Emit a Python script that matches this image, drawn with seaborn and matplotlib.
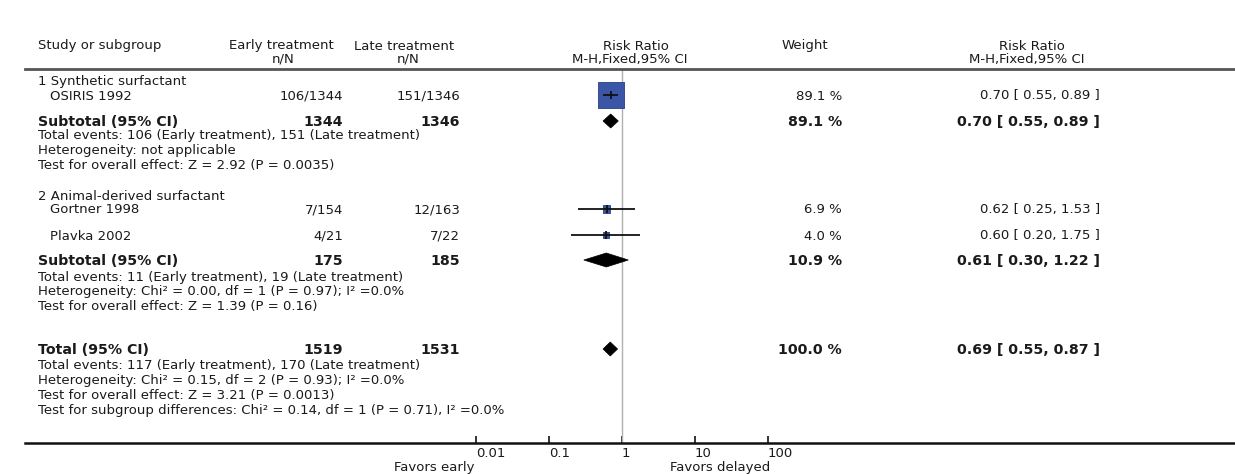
import numpy as np
import pandas as pd
import matplotlib
matplotlib.use("Agg")
import matplotlib.pyplot as plt
import seaborn as sns
from matplotlib.ticker import FixedLocator, FixedFormatter, NullLocator

# ---------------- data ----------------
group_titles = ["1 Synthetic surfactant", "2 Animal-derived surfactant"]
studies = ["OSIRIS 1992", "Gortner 1998", "Plavka 2002"]
early_events = [106, 7, 4]
early_total = [1344, 154, 21]
late_events = [151, 12, 7]
late_total = [1346, 163, 22]
study_rr = [0.70, 0.62, 0.60]
study_lo = [0.55, 0.25, 0.20]
study_hi = [0.89, 1.53, 1.75]
study_weight = [89.1, 6.9, 4.0]

pooled_labels = ["Subtotal (95% CI)", "Subtotal (95% CI)", "Total (95% CI)"]
pooled_early_total = [1344, 175, 1519]
pooled_late_total = [1346, 185, 1531]
pooled_rr = [0.70, 0.61, 0.69]
pooled_lo = [0.55, 0.30, 0.55]
pooled_hi = [0.89, 1.22, 0.87]
pooled_weight = [89.1, 10.9, 100.0]

footnotes_g1 = ["Total events: 106 (Early treatment), 151 (Late treatment)",
                "Heterogeneity: not applicable",
                "Test for overall effect: Z = 2.92 (P = 0.0035)"]
footnotes_g2 = ["Total events: 11 (Early treatment), 19 (Late treatment)",
                "Heterogeneity: Chi\u00b2 = 0.00, df = 1 (P = 0.97); I\u00b2 =0.0%",
                "Test for overall effect: Z = 1.39 (P = 0.16)"]
footnotes_total = ["Total events: 117 (Early treatment), 170 (Late treatment)",
                   "Heterogeneity: Chi\u00b2 = 0.15, df = 2 (P = 0.93); I\u00b2 =0.0%",
                   "Test for overall effect: Z = 3.21 (P = 0.0013)",
                   "Test for subgroup differences: Chi\u00b2 = 0.14, df = 1 (P = 0.71), I\u00b2 =0.0%"]

tick_values = [0.01, 0.1, 1, 10, 100]
tick_labels = ["0.01", "0.1", "1", "10", "100"]
favors_left = "Favors early"
favors_right = "Favors delayed"

# ---------------- layout (pixel rows / columns) ----------------
W, H = 1235, 474
study_rows = [95, 209, 235]
pooled_rows = [121, 260, 349]
group_rows = [81, 196]
foot_rows = [136, 277, 366]
foot_step = 14.8
AX_LEFT, AX_RIGHT, AX_TOP, AX_BOT = 25, 1235, 69, 443
X_ONE, PX_DEC = 622, 73.0

sns.set_style("white")
plt.rcParams['font.family'] = ['DejaVu Sans']
TXT = "#1a1a1a"
FS, FSB = 9.5, 10.2
BLUE = "#3B56A6"

fig = plt.figure(figsize=(W / 100, H / 100), dpi=100)
ax = fig.add_axes([AX_LEFT / W, 1 - AX_BOT / H, (AX_RIGHT - AX_LEFT) / W, (AX_BOT - AX_TOP) / H])
ax.set_xscale("log")
ax.set_xlim(10 ** ((AX_LEFT - X_ONE) / PX_DEC), 10 ** ((AX_RIGHT - X_ONE) / PX_DEC))
ax.set_ylim(AX_BOT, AX_TOP)

def T(px, py, s, ha="left", bold=False, size=None):
    fig.text(px / W, 1 - py / H, s, ha=ha, va="center", color=TXT,
             fontsize=size or (FSB if bold else FS),
             fontweight="bold" if bold else "normal")

# reference line at 1
ax.axvline(1, color="#b0b0b0", lw=1.0, zorder=1)

# studies: CI lines, squares, point ticks
sdf = pd.DataFrame({"study": studies, "rr": study_rr, "lo": study_lo, "hi": study_hi,
                    "weight": study_weight, "row": study_rows})
sns.scatterplot(data=sdf, x="rr", y="row", size="weight", sizes=(0, 350),
                size_norm=(0, max(study_weight)), marker="s", color=BLUE,
                edgecolor="#2a3f85", linewidth=0.6, legend=False, ax=ax, zorder=3)
ax.hlines(sdf["row"], sdf["lo"], sdf["hi"], color="#111111", lw=1.3, zorder=4)
ax.scatter(sdf["rr"], sdf["row"], marker="|", s=40, color="#111111", linewidths=1.3, zorder=5)

# pooled diamonds
for rr, lo, hi, row in zip(pooled_rr, pooled_lo, pooled_hi, pooled_rows):
    ax.fill([lo, rr, hi, rr], [row, row - 7, row, row + 7], color="black", lw=0.5, zorder=4)

# axes styling
for side in ["left", "right"]:
    ax.spines[side].set_visible(False)
ax.spines["top"].set_color("#555555")
ax.spines["top"].set_linewidth(2.0)
ax.spines["bottom"].set_color("#111111")
ax.spines["bottom"].set_linewidth(1.8)
ax.yaxis.set_major_locator(NullLocator())
ax.xaxis.set_major_locator(FixedLocator(tick_values))
ax.xaxis.set_major_formatter(FixedFormatter(tick_labels))
ax.xaxis.set_minor_locator(NullLocator())
ax.tick_params(axis="x", direction="in", length=5, width=1.2, color="#111111",
               labelsize=FS, labelcolor=TXT, pad=3, bottom=True)
for lab in ax.get_xticklabels():
    lab.set_ha("left")
ax.set_xlabel("")
ax.set_ylabel("")
ax.grid(False)

# headers
T(38, 46, "Study or subgroup")
T(281, 46, "Early treatment", ha="center")
T(283, 59, "n/N", ha="center")
T(404, 46, "Late treatment", ha="center")
T(408, 59, "n/N", ha="center")
T(636, 46, "Risk Ratio", ha="center")
T(630, 59, "M-H,Fixed,95% CI", ha="center")
T(805, 46, "Weight", ha="center")
T(1032, 46, "Risk Ratio", ha="center")
T(1027, 59, "M-H,Fixed,95% CI", ha="center")

# group titles
for title, row in zip(group_titles, group_rows):
    T(38, row, title)

# study rows
for i in range(len(studies)):
    r = study_rows[i] + 1
    T(50, r, studies[i])
    T(343, r, f"{early_events[i]}/{early_total[i]}", ha="right")
    T(460, r, f"{late_events[i]}/{late_total[i]}", ha="right")
    T(842, r, f"{study_weight[i]:.1f} %", ha="right")
    T(1100, r, f"{study_rr[i]:.2f} [ {study_lo[i]:.2f}, {study_hi[i]:.2f} ]", ha="right")

# pooled rows
for i in range(len(pooled_labels)):
    r = pooled_rows[i] + 1
    T(38, r, pooled_labels[i], bold=True)
    T(343, r, f"{pooled_early_total[i]}", ha="right", bold=True)
    T(460, r, f"{pooled_late_total[i]}", ha="right", bold=True)
    T(842, r, f"{pooled_weight[i]:.1f} %", ha="right", bold=True)
    T(1100, r, f"{pooled_rr[i]:.2f} [ {pooled_lo[i]:.2f}, {pooled_hi[i]:.2f} ]", ha="right", bold=True)

# footnotes
for start, lines in zip(foot_rows, [footnotes_g1, footnotes_g2, footnotes_total]):
    for k, line in enumerate(lines):
        T(38, start + k * foot_step, line)

# favors labels
T(475, 467, favors_left, ha="right")
T(670, 467, favors_right, ha="left")

fig.savefig("out.png", dpi=100)
